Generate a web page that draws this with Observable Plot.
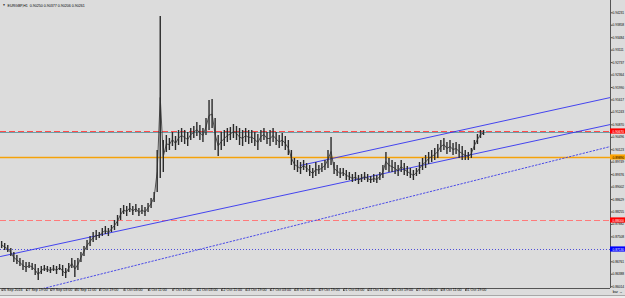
<!DOCTYPE html>
<html><head><meta charset="utf-8">
<script src="https://cdn.jsdelivr.net/npm/d3@7"></script>
<script src="https://cdn.jsdelivr.net/npm/@observablehq/plot@0.6"></script>
<style>
html,body{margin:0;padding:0;background:#dcdcdc;}
#chart svg{display:block;}
#strip{height:3px;border-top:1px solid #a8a8a8;background:#ececec;box-sizing:border-box;}
</style></head><body><div id="chart"></div><div id="strip"></div>
<script>
const title = "EURGBP,H1  0.90250 0.90377 0.90206 0.90261";
const barsPerGroup = 4; // H1 bars per drawn group
const highs = [
0.8737,0.8731,0.8725,0.8716,0.8704,0.8695,0.8686,0.8680,0.8674,0.8674,
0.8671,0.8668,0.8656,0.8662,0.8665,0.8662,0.8659,0.8665,0.8662,0.8668,
0.8665,0.8656,0.8671,0.8686,0.8680,0.8686,0.8704,0.8722,0.8740,0.8752,
0.8764,0.8770,0.8764,0.8776,0.8782,0.8776,0.8785,0.8800,0.8815,0.8836,
0.8845,0.8842,0.8851,0.8842,0.8848,0.8836,0.8845,0.8839,0.8851,0.8866,
0.8884,0.9010,0.9412,0.9040,0.9055,0.9046,0.9064,0.9052,0.9070,0.9076,
0.9070,0.9064,0.9076,0.9082,0.9094,0.9085,0.9076,0.9106,0.9160,0.9163,
0.9106,0.9055,0.9064,0.9070,0.9076,0.9079,0.9088,0.9082,0.9076,0.9070,
0.9076,0.9070,
0.9070,0.9064,0.9058,0.9070,0.9076,0.9064,0.9070,0.9076,
0.9064,0.9055,0.9061,0.9052,0.9040,0.9010,0.8986,0.8980,
0.8974,0.8980,0.8971,0.8965,0.8956,0.8974,0.8965,0.8971,0.8980,0.9010,
0.9049,0.8974,0.8965,0.8956,0.8956,0.8950,0.8944,0.8938,0.8944,0.8935,
0.8938,0.8944,0.8938,0.8932,0.8938,0.8935,0.8944,0.8965,0.9004,0.8986,
0.8980,0.8974,0.8965,0.8980,0.8971,0.8962,0.8956,0.8950,0.8956,0.8974,
0.8986,0.8995,0.9004,0.9010,0.9016,0.9028,0.9040,0.9046,0.9034,0.9040,
0.9031,0.9034,0.9028,0.9022,0.9010,0.9004,0.9016,0.9040,0.9058,0.9070,0.9070];
const lows = [
0.8716,0.8710,0.8704,0.8692,0.8674,0.8668,0.8662,0.8650,0.8644,0.8656,
0.8650,0.8635,0.8620,0.8638,0.8647,0.8644,0.8641,0.8647,0.8638,0.8650,
0.8632,0.8626,0.8644,0.8656,0.8629,0.8650,0.8674,0.8692,0.8710,0.8722,
0.8734,0.8740,0.8746,0.8752,0.8758,0.8752,0.8764,0.8770,0.8782,0.8800,
0.8818,0.8812,0.8824,0.8815,0.8824,0.8812,0.8818,0.8812,0.8824,0.8836,
0.8854,0.8884,0.8926,0.8944,0.9004,0.9010,0.9022,0.9010,0.9025,0.9034,
0.9028,0.9022,0.9040,0.9046,0.9052,0.9040,0.9034,0.9055,0.9070,0.9076,
0.9010,0.8992,0.9010,0.9022,0.9034,0.9040,0.9046,0.9040,0.9025,0.9022,
0.9034,0.9028,
0.9031,0.9022,0.9010,0.9034,0.9040,0.9028,0.9022,0.9034,
0.9025,0.9016,0.9022,0.9010,0.8995,0.8965,0.8950,0.8944,
0.8938,0.8950,0.8944,0.8932,0.8926,0.8932,0.8938,0.8944,0.8950,0.8956,
0.8965,0.8938,0.8932,0.8926,0.8932,0.8920,0.8920,0.8914,0.8917,0.8908,
0.8914,0.8920,0.8914,0.8911,0.8914,0.8911,0.8920,0.8926,0.8950,0.8944,
0.8944,0.8938,0.8932,0.8944,0.8935,0.8932,0.8926,0.8920,0.8932,0.8938,
0.8950,0.8956,0.8968,0.8974,0.8980,0.8986,0.9004,0.9010,0.8998,0.9004,
0.8995,0.8998,0.8986,0.8980,0.8980,0.8980,0.8986,0.9010,0.9028,0.9046,0.9055];

const xTickBars = [0,32,64,96,128,160,192,224,256,288,320,352,384,416,448,480,512,544,576,608];
const xTickLabels = ["26 Sep 2016","27 Sep 19:00","29 Sep 03:00","30 Sep 11:00","3 Oct 19:00","5 Oct 03:00","6 Oct 11:00","7 Oct 19:00","11 Oct 03:00","12 Oct 11:00","13 Oct 19:00","17 Oct 03:00","18 Oct 11:00","19 Oct 19:00","21 Oct 03:00","24 Oct 11:00","25 Oct 19:00","27 Oct 03:00","28 Oct 11:00","31 Oct 19:00"];
const yTicks = [0.94231,0.93858,0.93484,0.93111,0.92737,0.92364,0.91990,0.91617,0.91243,0.90870,0.90496,0.90123,0.89749,0.89376,0.89002,0.88629,0.88255,0.87882,0.87508,0.87135,0.86761,0.86388,0.86014];

const resistPrice = 0.9067;   // red/teal level
const bidPrice = 0.9064;
const orangePrice = 0.8989;
const redPrice = 0.8800;
const bluePrice = 0.8713;

const lowerTrend = [[0, 0.8692], [800, 0.9088]];
const upperTrend = [[393, 0.8965], [800, 0.9169]];
const dottedTrend = [[56, 0.8596], [800, 0.9022]];

const groups = highs.map((h, i) => ({bar: i * barsPerGroup + 1.5, high: h, low: lows[i], mid: (h + lows[i]) / 2}));

const boxLevels = [
  {p: resistPrice, label: "0.90670", bg: "#ff0000", fg: "#fff"},
  {p: orangePrice, label: "0.89890", bg: "#ffa500", fg: "#000"},
  {p: redPrice, label: "0.88000", bg: "#ff0000", fg: "#fff"},
  {p: bluePrice, label: "0.87130", bg: "#0000ff", fg: "#fff"}
];

const chart = Plot.plot({
  width: 625, height: 295,
  marginTop: 0, marginLeft: 0, marginRight: 15, marginBottom: 7,
  style: {background: "#dcdcdc", fontFamily: "'Liberation Sans', Arial, sans-serif", fontSize: "3.4px", color: "#000"},
  x: {domain: [0, 800], axis: null},
  y: {domain: [0.8596, 0.9460], axis: null},
  marks: [
    Plot.ruleY([bidPrice], {stroke: "#6f9fa8", strokeWidth: 1}),
    Plot.ruleY([resistPrice], {stroke: "#ff4a4a", strokeWidth: 1, strokeDasharray: "6,3"}),
    Plot.ruleY([orangePrice], {stroke: "#f5a20a", strokeWidth: 1.5}),
    Plot.ruleY([redPrice], {stroke: "#ff7a7a", strokeWidth: 1, strokeDasharray: "6,3"}),
    Plot.ruleY([bluePrice], {stroke: "#2a2ad8", strokeWidth: 0.8, strokeDasharray: "1,2"}),
    Plot.line(lowerTrend, {x: d => d[0], y: d => d[1], stroke: "#3232f0", strokeWidth: 0.9}),
    Plot.line(upperTrend, {x: d => d[0], y: d => d[1], stroke: "#3232f0", strokeWidth: 0.9}),
    Plot.line(dottedTrend, {x: d => d[0], y: d => d[1], stroke: "#3a3ae8", strokeWidth: 0.9, strokeDasharray: "1.5,2"}),
    Plot.ruleX(groups, {x: "bar", y1: "low", y2: "high", stroke: "#2a2a2a", strokeWidth: 1.4}),
    Plot.line(groups, {x: "bar", y: "mid", stroke: "#303030", strokeWidth: 0.8}),
    Plot.ruleX([800], {stroke: "#555", strokeWidth: 1}),
    Plot.ruleY([0.8596], {stroke: "#555", strokeWidth: 1}),
    Plot.axisY(yTicks, {anchor: "right", tickFormat: d3.format(".5f"), tickSize: 1.5, tickPadding: 0.5, fontSize: 3.2, stroke: "#555"}),
    Plot.axisX(xTickBars, {anchor: "bottom", tickFormat: d => xTickLabels[xTickBars.indexOf(d)], textAnchor: "start", tickSize: 3, tickPadding: -3, dx: 1.5, fontSize: 3.6, stroke: "#555"}),
    Plot.rect(boxLevels, {x1: 800, x2: 820, y1: "p", y2: "p", insetTop: -2.6, insetBottom: -2.6, fill: "bg"}),
    Plot.text(boxLevels, {x: 800, y: "p", text: "label", fill: "fg", textAnchor: "start", dx: 2, fontSize: 3.2}),
    Plot.text([title], {frameAnchor: "top-left", dx: 7, dy: 3.5, textAnchor: "start", fontSize: 3.6}),
    Plot.text(["\u25BC"], {frameAnchor: "top-left", dx: 2, dy: 3.5, textAnchor: "start", fontSize: 3})
  ]
});
document.getElementById("chart").appendChild(chart);
</script></body></html>
